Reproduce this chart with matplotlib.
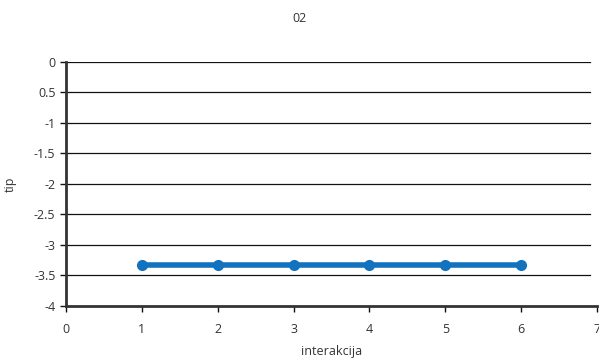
import matplotlib
matplotlib.use("Agg")
import matplotlib.pyplot as plt

plt.rcParams['font.family'] = ['Open Sans', 'DejaVu Sans']

interakcija = [1, 2, 3, 4, 5, 6]
tip = [-3.33, -3.33, -3.33, -3.33, -3.33, -3.33]
y_ticks = [0, -0.5, -1, -1.5, -2, -2.5, -3, -3.5, -4]
y_tick_labels = ['0', '0.5', '-1', '-1.5', '-2', '-2.5', '-3', '-3.5', '-4']
x_ticks = [0, 1, 2, 3, 4, 5, 6, 7]

fig = plt.figure(figsize=(5.99, 3.6), dpi=100)
ax = fig.add_axes([0.110, 0.150, 0.887, 0.678])

# horizontal grid lines stop a little short of x = 7
for yv in y_ticks[:-1]:
    ax.plot([0, 6.9], [yv, yv], color='#111111', lw=0.9, zorder=1)

ax.plot(interakcija, tip, color='#1272bd', lw=4, marker='o', ms=7, zorder=3,
        solid_capstyle='butt')

ax.set_xlim(0, 7)
ax.set_ylim(-4, 0)
ax.set_xticks(x_ticks)
ax.set_yticks(y_ticks)
ax.set_yticklabels(y_tick_labels)

for s in ['top', 'right']:
    ax.spines[s].set_visible(False)
ax.spines['left'].set_color('#333333')
ax.spines['left'].set_linewidth(2)
ax.spines['bottom'].set_color('#333333')
ax.spines['bottom'].set_linewidth(2)
ax.tick_params(axis='both', direction='out', length=4, width=1, colors='#111111',
               labelsize=9, labelcolor='#333333')
ax.tick_params(axis='x', pad=8)

ax.set_xlabel('interakcija', fontsize=9, color='#333333', labelpad=7)
ax.set_ylabel('tip', fontsize=9, color='#333333', labelpad=12)
fig.text(0.5, 0.95, '02', ha='center', va='center', fontsize=9, color='#333333')

fig.savefig('out.png', dpi=100)
